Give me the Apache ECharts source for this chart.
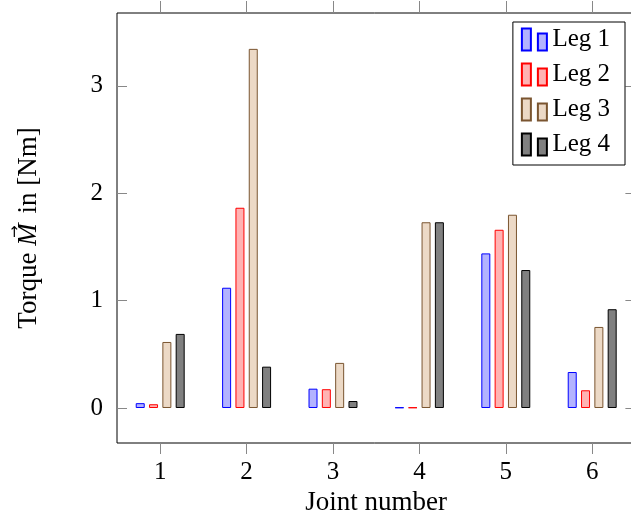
<!DOCTYPE html>
<html>
<head>
<meta charset="utf-8">
<script src="https://cdn.jsdelivr.net/npm/echarts@6/dist/echarts.min.js"></script>
<style>html,body{margin:0;padding:0;background:#fff;}#c{width:631px;height:515px;}</style>
</head>
<body>
<div id="c"></div>
<script>
const categories = ['1', '2', '3', '4', '5', '6'];
const leg1 = [0.045, 1.12, 0.18, 0.005, 1.44, 0.335];
const leg2 = [0.035, 1.865, 0.175, 0.005, 1.66, 0.165];
const leg3 = [0.615, 3.345, 0.42, 1.73, 1.80, 0.755];
const leg4 = [0.69, 0.385, 0.065, 1.73, 1.285, 0.92];
const yTicks = [0, 1, 2, 3];
const seriesNames = ['Leg 1', 'Leg 2', 'Leg 3', 'Leg 4'];
const yLabelParts = ['Torque ', 'M', ' in [Nm]'];

const font = 'Liberation Serif';
const tickSize = 25, nameSize = 27, legendSize = 25;
const styles = [
  { stroke: '#0000ff', fill: '#b3b3ff' },
  { stroke: '#ff0000', fill: '#ffb3b3' },
  { stroke: '#7a5530', fill: '#ecd9c6' },
  { stroke: '#000000', fill: '#808080' }
];
const dataSets = [leg1, leg2, leg3, leg4];
const legendIcon = 'path://M0,0 L9,0 L9,22 L0,22 Z M16,5 L25,5 L25,22 L16,22 Z';

// measure y-label pieces
const mctx = document.createElement('canvas').getContext('2d');
const normalFont = nameSize + 'px "' + font + '"';
const italicFont = 'italic ' + nameSize + 'px "' + font + '"';
mctx.font = normalFont;
const w1 = mctx.measureText(yLabelParts[0]).width;
const w3 = mctx.measureText(yLabelParts[2]).width;
mctx.font = italicFont;
const wM = mctx.measureText(yLabelParts[1]).width + 3;
const W = w1 + wM + w3;
const x0 = -W / 2;

const chart = echarts.init(document.getElementById('c'), null, { renderer: 'canvas' });
chart.setOption({
  animation: false,
  backgroundColor: '#fff',
  textStyle: { fontFamily: font },
  grid: { left: 117, top: 13, right: -4.4, bottom: 72, show: true, borderColor: '#000', borderWidth: 1, backgroundColor: 'transparent', outerBoundsMode: 'none', containLabel: false },
  legend: {
    data: seriesNames,
    orient: 'vertical',
    right: 6,
    top: 22,
    icon: legendIcon,
    itemWidth: 26,
    itemHeight: 22,
    itemGap: 10,
    padding: [5, 15, 8, 8],
    borderColor: '#000',
    borderWidth: 1,
    backgroundColor: '#fff',
    textStyle: { fontFamily: font, fontSize: legendSize, color: '#000' }
  },
  graphic: [{
    type: 'group',
    x: 29,
    y: 228,
    rotation: Math.PI / 2,
    children: [
      { type: 'text', x: x0, y: 0, style: { text: yLabelParts[0], font: normalFont, fill: '#000', align: 'left', verticalAlign: 'middle' } },
      { type: 'text', x: x0 + w1, y: 0, style: { text: yLabelParts[1], font: italicFont, fill: '#000', align: 'left', verticalAlign: 'middle' } },
      { type: 'text', x: x0 + w1 + wM * 0.55, y: -14, style: { text: '\u2192', font: '15px "DejaVu Sans"', fill: '#000', align: 'center', verticalAlign: 'middle' } },
      { type: 'text', x: x0 + w1 + wM, y: 0, style: { text: yLabelParts[2], font: normalFont, fill: '#000', align: 'left', verticalAlign: 'middle' } }
    ]
  }],
  xAxis: [{
    type: 'category',
    data: categories,
    position: 'bottom',
    name: 'Joint number',
    nameLocation: 'middle',
    nameGap: 43,
    nameTextStyle: { fontFamily: font, fontSize: nameSize, color: '#000' },
    axisLine: { show: false, onZero: false },
    axisTick: { show: true, alignWithLabel: true, inside: false, length: 11, lineStyle: { color: '#888' } },
    axisLabel: { fontFamily: font, fontSize: tickSize, color: '#000', margin: 17 },
    splitLine: { show: false }
  }, {
    type: 'category',
    data: categories,
    position: 'top',
    axisLine: { show: false, onZero: false },
    axisTick: { show: true, alignWithLabel: true, inside: false, length: 12, lineStyle: { color: '#888' } },
    axisLabel: { show: false },
    splitLine: { show: false }
  }],
  yAxis: [{
    type: 'value',
    min: -0.326,
    max: 3.679,
    position: 'left',
    axisLine: { show: false, onZero: false },
    axisTick: { show: true, inside: true, length: 10, customValues: yTicks, lineStyle: { color: '#888' } },
    axisLabel: { fontFamily: font, fontSize: tickSize, color: '#000', margin: 14, customValues: yTicks },
    splitLine: { show: false }
  }, {
    type: 'value',
    min: -0.326,
    max: 3.679,
    position: 'right',
    axisLine: { show: false, onZero: false },
    axisTick: { show: true, inside: true, length: 10, customValues: yTicks, lineStyle: { color: '#888' } },
    axisLabel: { show: false },
    splitLine: { show: false }
  }],
  series: dataSets.map((d, i) => ({
    name: seriesNames[i],
    type: 'bar',
    data: d,
    barWidth: 9,
    barGap: '48%',
    itemStyle: { color: styles[i].fill, borderColor: styles[i].stroke, borderWidth: 1 }
  }))
});
</script>
</body>
</html>
